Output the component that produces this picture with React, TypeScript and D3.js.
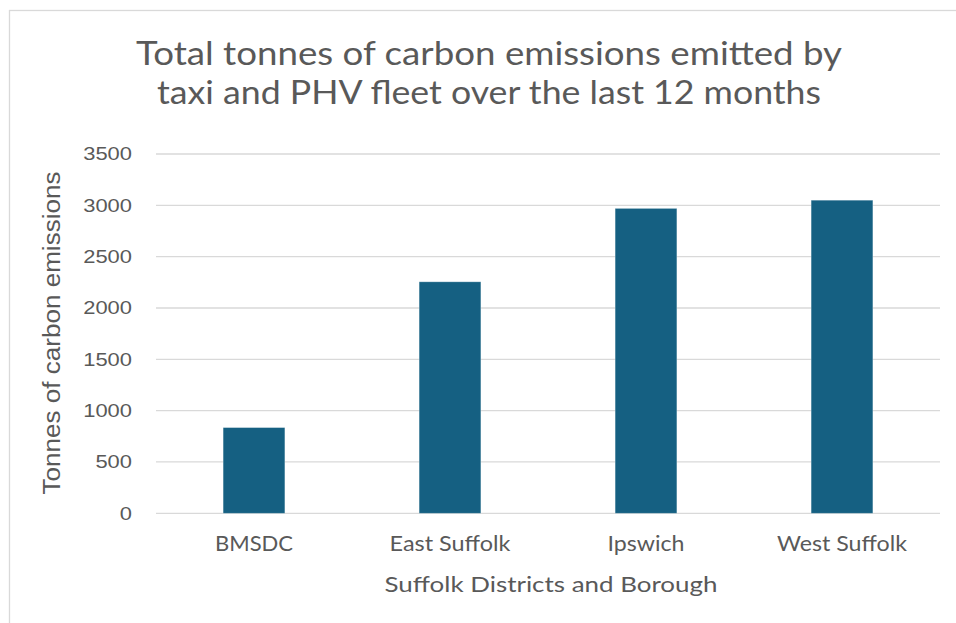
import React from 'react';
import * as d3 from 'd3';

const districts = ['BMSDC', 'East Suffolk', 'Ipswich', 'West Suffolk'];
const emissions = [835, 2255, 2970, 3050];
const yTicks = [0, 500, 1000, 1500, 2000, 2500, 3000, 3500];
const titleLines = [
  'Total tonnes of carbon emissions emitted by',
  'taxi and PHV fleet over the last 12 months',
];
// measured label widths so the stand-in fonts fill the same room
const titleWidths = [706, 664];
const districtWidths = [78, 121, 77, 130];

const W = 956;
const H = 623;
const textColor = '#595959';
const gridColor = '#d9d9d9';
const barColor = '#156082';
const titleFont = "Lato, 'Open Sans', sans-serif";
const tickFont = "'Liberation Sans', Arial, sans-serif";

const App: React.FC = () => {
  const margin = { top: 154, right: 16, bottom: 110, left: 156 };

  // Create scales
  const x = d3.scaleBand<string>()
    .domain(districts)
    .range([margin.left, W - margin.right])
    .paddingInner(0.685)
    .paddingOuter(0.3425);

  const y = d3.scaleLinear()
    .domain([0, 3500])
    .range([513.3, margin.top]);

  const plotCenter = (margin.left + W - margin.right) / 2;

  return (
    <svg
      width={W}
      height={H}
      viewBox={`0 0 ${W} ${H}`}
      style={{ position: 'fixed', left: 0, top: 0, background: '#fff' }}
    >
      {/* chart area border, cropped on the right and bottom */}
      <rect x={9.5} y={10.5} width={W + 20} height={H + 20} fill="#fff" stroke={gridColor} strokeWidth={1.3} />

      {titleLines.map((t, i) => (
        <text
          key={t}
          x={489}
          y={65 + i * 38.5}
          textAnchor="middle"
          fontFamily={titleFont}
          fontSize={32}
          fill={textColor}
          textLength={titleWidths[i]}
          lengthAdjust="spacingAndGlyphs"
        >
          {t}
        </text>
      ))}

      {/* gridlines and y ticks */}
      {yTicks.map(t => (
        <g key={t}>
          <line
            x1={margin.left}
            x2={W - margin.right}
            y1={y(t)}
            y2={y(t)}
            stroke={gridColor}
            strokeWidth={1.3}
          />
          <text
            x={132}
            y={y(t)}
            dy="0.35em"
            textAnchor="end"
            fontFamily={tickFont}
            fontSize={18.5}
            fill={textColor}
            textLength={String(t).length * 12.2}
            lengthAdjust="spacingAndGlyphs"
          >
            {t}
          </text>
        </g>
      ))}

      {/* bars */}
      {districts.map((d, i) => (
        <rect
          key={d}
          x={x(d)}
          y={y(emissions[i])}
          width={x.bandwidth()}
          height={y(0) - y(emissions[i])}
          fill={barColor}
          stroke="#ffffff"
          strokeOpacity={0.35}
          strokeWidth={0.8}
        />
      ))}

      {/* category labels */}
      {districts.map((d, i) => (
        <text
          key={d}
          x={(x(d) ?? 0) + x.bandwidth() / 2}
          y={550.7}
          textAnchor="middle"
          fontFamily={titleFont}
          fontSize={21}
          fill={textColor}
          textLength={districtWidths[i]}
          lengthAdjust="spacingAndGlyphs"
        >
          {d}
        </text>
      ))}

      <text
        x={plotCenter + 3}
        y={592}
        textAnchor="middle"
        fontFamily={titleFont}
        fontSize={22}
        fill={textColor}
        textLength={333}
        lengthAdjust="spacingAndGlyphs"
      >
        Suffolk Districts and Borough
      </text>

      <text
        transform={`translate(59.5, ${333}) rotate(-90)`}
        textAnchor="middle"
        fontFamily={tickFont}
        fontSize={23.5}
        fill={textColor}
        textLength={323}
        lengthAdjust="spacingAndGlyphs"
      >
        Tonnes of carbon emissions
      </text>
    </svg>
  );
};

export default App;
